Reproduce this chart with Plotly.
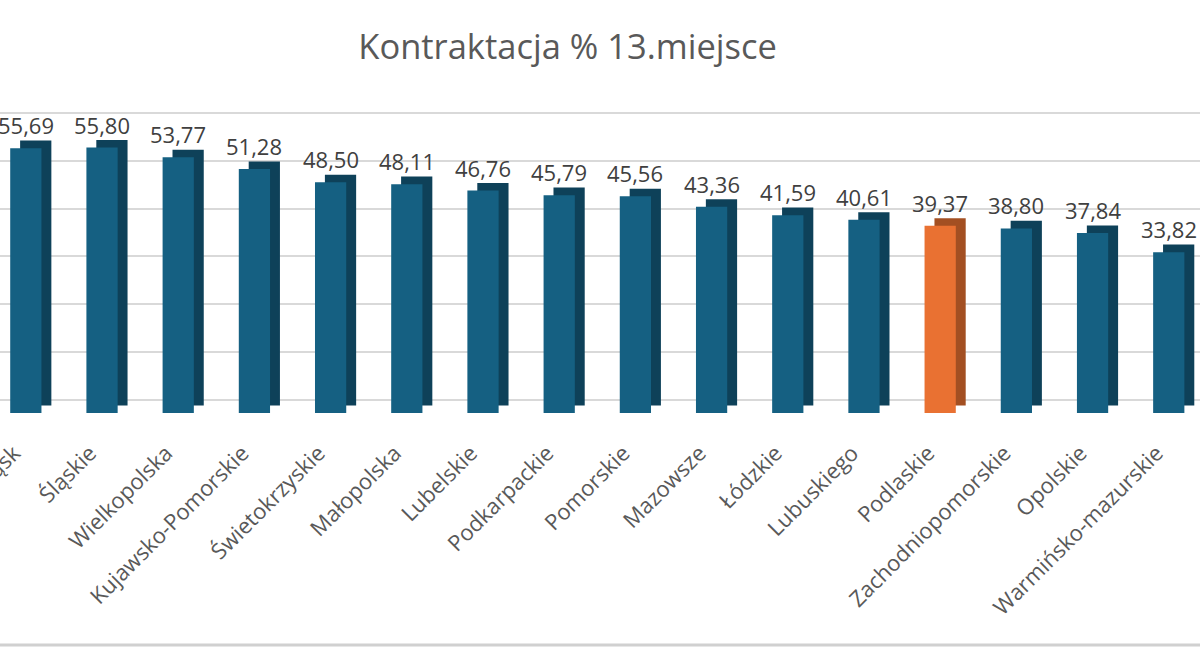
import plotly.graph_objects as go

# dane z wykresu
regiony = ['Dolny Śląsk', 'Śląskie', 'Wielkopolska', 'Kujawsko-Pomorskie', 'Świetokrzyskie',
           'Małopolska', 'Lubelskie', 'Podkarpackie', 'Pomorskie', 'Mazowsze', 'Łódzkie',
           'Lubuskiego', 'Podlaskie', 'Zachodniopomorskie', 'Opolskie', 'Warmińsko-mazurskie']
kontraktacja = [55.69, 55.80, 53.77, 51.28, 48.50, 48.11, 46.76, 45.79, 45.56, 43.36,
                41.59, 40.61, 39.37, 38.80, 37.84, 33.82]
wyroznione = 'Podlaskie'

kolor = '#156082'
kolor_bok = '#0e4159'
kolor_wyr = '#E97132'
kolor_wyr_bok = '#a34f22'
czcionka = 'Open Sans'

front_cols = [kolor_wyr if r == wyroznione else kolor for r in regiony]
side_cols = [kolor_wyr_bok if r == wyroznione else kolor_bok for r in regiony]
pos = list(range(len(regiony)))

szer = 0.41      # szerokosc slupka
gleb_x = 0.13    # "glebokosc" 3D
gleb_y = 1.6

fig = go.Figure()

# ciemny bok/gora slupka (udawane 3D)
fig.add_trace(go.Bar(
    x=pos, y=kontraktacja, base=gleb_y,
    width=szer, offset=-szer / 2 + gleb_x,
    marker=dict(color=side_cols, line=dict(width=0)),
    hoverinfo='skip', showlegend=False,
))
# front slupka
fig.add_trace(go.Bar(
    x=pos, y=kontraktacja,
    width=szer, offset=-szer / 2,
    marker=dict(color=front_cols, line=dict(width=0)),
    showlegend=False,
))
# pusta seria dla osi z liniami siatki (sciana tylna)
fig.add_trace(go.Scatter(x=[pos[0]], y=[None], yaxis='y2', showlegend=False, hoverinfo='skip'))

# etykiety danych
for p, v in zip(pos, kontraktacja):
    fig.add_annotation(
        x=p, y=v, yanchor='bottom', yshift=6, showarrow=False,
        text=f'{v:.2f}'.replace('.', ','),
        font=dict(size=22, color='#404040', family=czcionka),
    )

fig.update_layout(
    width=1200, height=647,
    barmode='overlay',
    plot_bgcolor='white', paper_bgcolor='white',
    margin=dict(l=0, r=0, t=111, b=234, autoexpand=False),
    title=dict(text='Kontraktacja % 13.miejsce', x=0.473, xanchor='center',
               y=0.927, yanchor='middle',
               font=dict(size=34.5, color='#595959', family=czcionka)),
    font=dict(family=czcionka, color='#595959'),
    xaxis=dict(
        tickmode='array', tickvals=pos, ticktext=regiony,
        range=[-0.339, 15.41], tickangle=-45, automargin=False,
        tickfont=dict(size=22, color='#595959'),
        showgrid=False, zeroline=False, showline=False, ticks='',
        ticklabelstandoff=22, ticklabelshift=-12, ticklabeloverflow='allow',
    ),
    yaxis=dict(range=[0, 63.5], showgrid=False, zeroline=False, automargin=False,
               showticklabels=False, showline=False),
    yaxis2=dict(range=[-2.72, 60.38], overlaying='y', dtick=10, tick0=0,
                showgrid=True, gridcolor='#d9d9d9', gridwidth=1.5, automargin=False,
                zeroline=False, showticklabels=False, showline=False),
    shapes=[dict(type='line', xref='paper', yref='paper', x0=0, x1=1,
                 y0=-0.768, y1=-0.768, line=dict(color='#d0d0d0', width=3))],
)

fig.write_html("out.html", config={'displayModeBar': False},
               post_script="document.body.style.margin='0';")
